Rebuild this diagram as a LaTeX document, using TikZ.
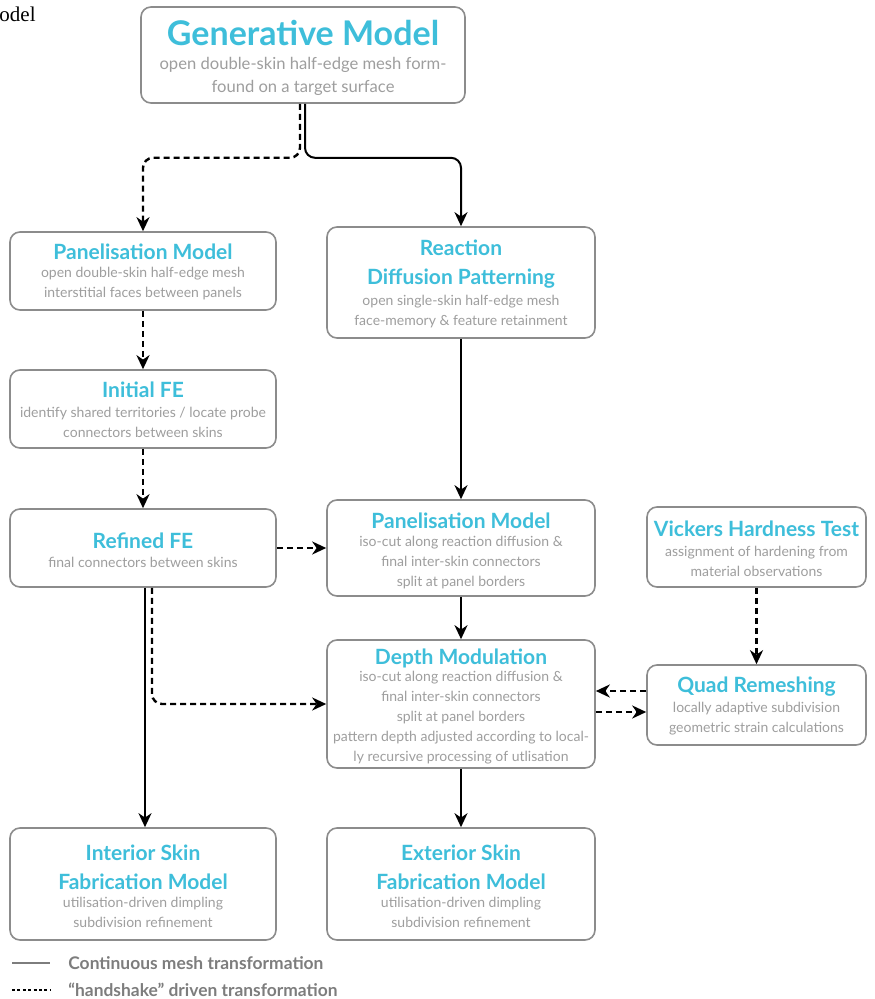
\documentclass[tikz,border=0pt]{standalone}
\usepackage{fontspec}
\setmainfont{Lato}
\newfontfamily\capserif{Liberation Serif}
\usepackage{tikz}
\usetikzlibrary{arrows.meta, positioning}
\usepackage{xcolor}
\definecolor{headblue}{RGB}{62,190,218}
\definecolor{subgrey}{RGB}{158,158,158}
\definecolor{framegrey}{RGB}{140,140,140}
\definecolor{legendgrey}{RGB}{125,125,125}

\tikzset{
  stagebox/.style={draw=framegrey, line width=0.8pt, rounded corners=5pt, fill=white, inner sep=0pt},
  headtxt/.style={text=headblue, align=center, inner sep=0pt, font=\bfseries\fontsize{10.5}{14.5}\selectfont},
  subtxt/.style={text=subgrey, align=center, inner sep=0pt, font=\fontsize{7}{10}\selectfont},
  flow/.style={-{Stealth[length=7pt, width=6.5pt, inset=2.2pt]}, line width=1pt},
  shake/.style={flow, line width=1.2pt, dash pattern=on 3pt off 2pt},
}

\begin{document}
\begin{tikzpicture}[x=0.5pt, y=-0.5pt]
  \useasboundingbox (0,0) rectangle (874,999);

  \node[font=\capserif\fontsize{10.5}{12}\selectfont, anchor=base east, inner sep=0] (capfrag) at (36,22) {odel};

  % boxes
  \node[stagebox, minimum width=162pt, minimum height=48pt] (gen) at (303,55) {};
  \node[stagebox, minimum width=133pt, minimum height=39pt] (panL) at (143,271) {};
  \node[stagebox, minimum width=134pt, minimum height=55.5pt] (react) at (461,282.5) {};
  \node[stagebox, minimum width=133pt, minimum height=39pt] (initFE) at (143,409) {};
  \node[stagebox, minimum width=133pt, minimum height=39pt] (refFE) at (143,548) {};
  \node[stagebox, minimum width=134pt, minimum height=48pt] (panM) at (461,548) {};
  \node[stagebox, minimum width=109.5pt, minimum height=40pt] (vick) at (756.5,547) {};
  \node[stagebox, minimum width=134pt, minimum height=64pt] (depth) at (461,704) {};
  \node[stagebox, minimum width=109.5pt, minimum height=40pt] (quad) at (756.5,705) {};
  \node[stagebox, minimum width=133pt, minimum height=56pt] (inter) at (143,884) {};
  \node[stagebox, minimum width=134pt, minimum height=56pt] (exter) at (461,884) {};

  % texts
  \node[headtxt, font=\bfseries\fontsize{17}{20}\selectfont] (genT) at (303,33) {Generative Model};
  \node[subtxt, font=\fontsize{8.3}{11.5}\selectfont] (genS) at (303,76) {open double-skin half-edge mesh form-\\found on a target surface};
  \node[headtxt] (panLT) at (143,252) {Panelisation Model};
  \node[subtxt] (panLS) at (143,283.5) {open double-skin half-edge mesh\\interstitial faces between panels};
  \node[headtxt] (reactT) at (461,264) {Reaction\\Diffusion Patterning};
  \node[subtxt] (reactS) at (461,311.5) {open single-skin half-edge mesh\\face-memory \& feature retainment};
  \node[headtxt] (initFET) at (143,390) {Initial FE};
  \node[subtxt] (initFES) at (143,422.5) {identify shared territories / locate probe\\connectors between skins};
  \node[headtxt] (refFET) at (143,541) {Refined FE};
  \node[subtxt] (refFES) at (143,562) {final connectors between skins};
  \node[headtxt] (panMT) at (461,521) {Panelisation Model};
  \node[subtxt] (panMS) at (461,563) {iso-cut along reaction diffusion \&\\final inter-skin connectors\\split at panel borders};
  \node[headtxt] (vickT) at (756.5,529) {Vickers Hardness Test};
  \node[subtxt] (vickS) at (756.5,561) {assignment of hardening from\\material observations};
  \node[headtxt] (depthT) at (461,658) {Depth Modulation};
  \node[subtxt] (depthS) at (461,718) {iso-cut along reaction diffusion \&\\final inter-skin connectors\\split at panel borders\\pattern depth adjusted according to local-\\ly recursive processing of utlisation};
  \node[headtxt] (quadT) at (756.5,687) {Quad Remeshing};
  \node[subtxt] (quadS) at (756.5,718.5) {locally adaptive subdivision\\geometric strain calculations};
  \node[headtxt] (interT) at (143,867) {Interior Skin\\Fabrication Model};
  \node[subtxt] (interS) at (143,912.5) {utilisation-driven dimpling\\subdivision refinement};
  \node[headtxt] (exterT) at (461,867) {Exterior Skin\\Fabrication Model};
  \node[subtxt] (exterS) at (461,912.5) {utilisation-driven dimpling\\subdivision refinement};

  % connectors
  \draw[shake, rounded corners=5pt] ([xshift=-1.5pt]gen.south) -- ++(0,54) -| (panL.north);
  \draw[flow, rounded corners=5pt] ([xshift=1pt]gen.south) -- ++(0,54) -| (react.north);
  \draw[shake] (panL) -- (initFE);
  \draw[shake] (initFE) -- (refFE);
  \draw[flow] (react) -- (panM);
  \draw[shake] (refFE) -- (panM);
  \draw[flow] (panM) -- (depth);
  \draw[shake] (vick) -- (quad);
  \draw[shake] ([yshift=7pt]quad.west) -- ([yshift=7pt]quad.west -| depth.east);
  \draw[shake] ([yshift=-3.5pt]quad.west -| depth.east) -- ([yshift=-3.5pt]quad.west);
  \draw[flow] ([xshift=1pt]refFE.south) -- ([xshift=1pt]inter.north);
  \draw[shake, rounded corners=5pt] ([xshift=4.5pt]refFE.south) |- (depth.west);
  \draw[flow] (depth) -- (exter);

  % legend
  \coordinate (solidA) at (12,963);
  \coordinate (solidB) at (50,963);
  \coordinate (dashA) at (12,990);
  \coordinate (dashB) at (50,990);
  \draw[legendgrey, line width=0.6pt] (solidA) -- (solidB);
  \draw[line width=0.6pt, dash pattern=on 1.5pt off 1.2pt] (dashA) -- (dashB);
  \node[anchor=west, inner sep=0, text=legendgrey, font=\bfseries\fontsize{8.7}{10}\selectfont] (solidL) at (68,963) {Continuous mesh transformation};
  \node[anchor=west, inner sep=0, text=legendgrey, font=\bfseries\fontsize{8.7}{10}\selectfont] (dashL) at (68,990) {“handshake” driven transformation};
\end{tikzpicture}
\end{document}
